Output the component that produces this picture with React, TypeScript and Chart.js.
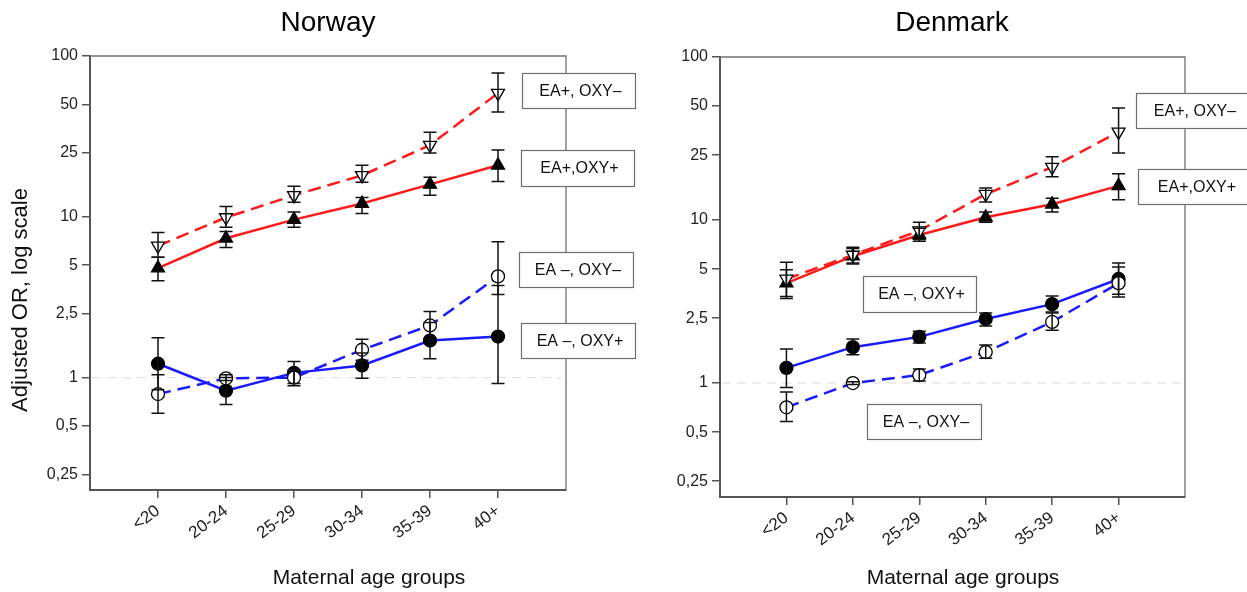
import React, { useEffect, useRef } from 'react';
import { Chart, registerables } from 'chart.js';

Chart.register(...registerables);

const FONT = "'Liberation Sans', Arial, Helvetica, sans-serif";
const PAGE_W = 1247;
const PAGE_H = 592;

// ---------- data ----------
const ageGroups = ['<20', '20-24', '25-29', '30-34', '35-39', '40+'];
const yTickValues = [0.25, 0.5, 1, 2.5, 5, 10, 25, 50, 100];

// Norway
const noEaPosOxyNeg = [6.6, 9.9, 13.6, 18.1, 27.9, 58.8];
const noEaPosOxyNegLo = [5.6, 8.6, 12.3, 16.4, 24.9, 44.8];
const noEaPosOxyNegHi = [8.0, 11.6, 15.5, 20.9, 33.6, 78.3];

const noEaPosOxyPos = [4.8, 7.35, 9.6, 12.1, 15.9, 20.9];
const noEaPosOxyPosLo = [4.0, 6.45, 8.6, 10.5, 13.6, 16.6];
const noEaPosOxyPosHi = [5.6, 8.1, 10.7, 13.2, 17.6, 26.0];

const noEaNegOxyNeg = [0.79, 0.99, 1.0, 1.49, 2.11, 4.26];
const noEaNegOxyNegLo = [0.6, 0.96, 0.89, 1.28, 1.73, 3.29];
const noEaNegOxyNegHi = [1.04, 1.04, 1.12, 1.73, 2.58, 7.0];

const noEaNegOxyPos = [1.22, 0.83, 1.07, 1.19, 1.7, 1.8];
const noEaNegOxyPosLo = [0.84, 0.68, 0.92, 0.99, 1.31, 0.92];
const noEaNegOxyPosHi = [1.77, 1.0, 1.26, 1.42, 2.2, 3.74];

// Denmark
const dkEaPosOxyNeg = [4.35, 6.1, 8.6, 14.4, 21.1, 34.7];
const dkEaPosOxyNegLo = [3.4, 5.45, 7.6, 12.9, 18.4, 25.8];
const dkEaPosOxyNegHi = [5.5, 6.8, 9.7, 15.7, 24.4, 48.7];

const dkEaPosOxyPos = [4.1, 6.0, 8.1, 10.4, 12.5, 16.2];
const dkEaPosOxyPosLo = [3.3, 5.37, 7.4, 9.7, 11.2, 13.3];
const dkEaPosOxyPosHi = [4.95, 6.7, 8.9, 11.2, 13.6, 19.2];

const dkEaNegOxyNeg = [0.71, 1.0, 1.12, 1.55, 2.37, 4.1];
const dkEaNegOxyNegLo = [0.58, 0.98, 1.03, 1.42, 2.11, 3.37];
const dkEaNegOxyNegHi = [0.88, 1.02, 1.22, 1.71, 2.69, 5.15];

const dkEaNegOxyPos = [1.24, 1.66, 1.92, 2.47, 3.05, 4.35];
const dkEaNegOxyPosLo = [0.94, 1.49, 1.76, 2.24, 2.73, 3.5];
const dkEaNegOxyPosHi = [1.62, 1.86, 2.08, 2.69, 3.42, 5.45];

// ---------- styling ----------
const RED = '#ff1a1a';
const BLUE = '#1a1aff';

type Marker = 'triDownOpen' | 'triUpFilled' | 'circleOpen' | 'circleFilled';

interface SeriesDef {
  label: string;
  values: number[];
  lo: number[];
  hi: number[];
  color: string;
  dashed: boolean;
  marker: Marker;
}

interface BoxDef {
  text: string;
  x: number;
  y: number;
  w: number;
  h: number;
}

interface PanelDef {
  title: string;
  left: number;
  width: number;
  area: { left: number; right: number; top: number; bottom: number };
  titleX: number;
  xTitleX: number;
  yTitle: string | null;
  series: SeriesDef[];
  boxes: BoxDef[];
}

const norway: PanelDef = {
  title: 'Norway',
  left: 0,
  width: 640,
  area: { left: 90, right: 566, top: 56, bottom: 490 },
  titleX: 328,
  xTitleX: 369,
  yTitle: 'Adjusted OR, log scale',
  series: [
    { label: 'EA+, OXY–', values: noEaPosOxyNeg, lo: noEaPosOxyNegLo, hi: noEaPosOxyNegHi, color: RED, dashed: true, marker: 'triDownOpen' },
    { label: 'EA+,OXY+', values: noEaPosOxyPos, lo: noEaPosOxyPosLo, hi: noEaPosOxyPosHi, color: RED, dashed: false, marker: 'triUpFilled' },
    { label: 'EA –, OXY–', values: noEaNegOxyNeg, lo: noEaNegOxyNegLo, hi: noEaNegOxyNegHi, color: BLUE, dashed: true, marker: 'circleOpen' },
    { label: 'EA –, OXY+', values: noEaNegOxyPos, lo: noEaNegOxyPosLo, hi: noEaNegOxyPosHi, color: BLUE, dashed: false, marker: 'circleFilled' },
  ],
  boxes: [
    { text: 'EA+, OXY–', x: 522, y: 73, w: 113, h: 35 },
    { text: 'EA+,OXY+', x: 521, y: 150, w: 113, h: 36 },
    { text: 'EA –, OXY–', x: 519, y: 252, w: 114, h: 35 },
    { text: 'EA –, OXY+', x: 521, y: 323, w: 114, h: 35 },
  ],
};

const denmark: PanelDef = {
  title: 'Denmark',
  left: 640,
  width: PAGE_W - 640,
  area: { left: 80, right: 545, top: 57, bottom: 497 },
  titleX: 312,
  xTitleX: 323,
  yTitle: null,
  series: [
    { label: 'EA+, OXY–', values: dkEaPosOxyNeg, lo: dkEaPosOxyNegLo, hi: dkEaPosOxyNegHi, color: RED, dashed: true, marker: 'triDownOpen' },
    { label: 'EA+,OXY+', values: dkEaPosOxyPos, lo: dkEaPosOxyPosLo, hi: dkEaPosOxyPosHi, color: RED, dashed: false, marker: 'triUpFilled' },
    { label: 'EA –, OXY–', values: dkEaNegOxyNeg, lo: dkEaNegOxyNegLo, hi: dkEaNegOxyNegHi, color: BLUE, dashed: true, marker: 'circleOpen' },
    { label: 'EA –, OXY+', values: dkEaNegOxyPos, lo: dkEaNegOxyPosLo, hi: dkEaNegOxyPosHi, color: BLUE, dashed: false, marker: 'circleFilled' },
  ],
  boxes: [
    { text: 'EA+, OXY–', x: 496, y: 93, w: 114, h: 35 },
    { text: 'EA+,OXY+', x: 498, y: 169, w: 114, h: 35 },
    { text: 'EA –, OXY+', x: 223, y: 276, w: 113, h: 36 },
    { text: 'EA –, OXY–', x: 227, y: 404, w: 114, h: 35 },
  ],
};

function fmtTick(v: number): string {
  return String(v).replace('.', ',');
}

function buildDataset(s: SeriesDef) {
  const isTri = s.marker === 'triDownOpen' || s.marker === 'triUpFilled';
  const filled = s.marker === 'triUpFilled' || s.marker === 'circleFilled';
  return {
    label: s.label,
    data: s.values.map((v, i) => ({ x: i + 1, y: v })),
    errLo: s.lo,
    errHi: s.hi,
    borderColor: s.color,
    borderWidth: 2.5,
    borderDash: s.dashed ? [13, 7] : [],
    fill: false,
    tension: 0,
    pointStyle: isTri ? 'triangle' : 'circle',
    pointRotation: s.marker === 'triDownOpen' ? 180 : 0,
    pointRadius: isTri ? 7.5 : 6.5,
    pointBorderWidth: 1.3,
    pointBorderColor: '#000',
    pointBackgroundColor: filled ? '#000' : '#fff',
  };
}

function makeDecor(p: PanelDef) {
  return {
    id: 'decor',
    beforeDatasetsDraw(chart: any) {
      const { ctx, chartArea: a } = chart;
      const y = chart.scales.y;
      ctx.save();
      const y1 = y.getPixelForValue(1);
      ctx.strokeStyle = '#dcdcdc';
      ctx.lineWidth = 1;
      ctx.setLineDash([9, 6]);
      ctx.beginPath();
      ctx.moveTo(a.left + 2, y1);
      ctx.lineTo(a.right - 4, y1);
      ctx.stroke();
      ctx.setLineDash([]);
      ctx.strokeStyle = '#707070';
      ctx.lineWidth = 1.3;
      ctx.beginPath();
      ctx.moveTo(a.left, a.top);
      ctx.lineTo(a.right, a.top);
      ctx.lineTo(a.right, a.bottom);
      ctx.stroke();
      ctx.restore();
    },
    afterDatasetsDraw(chart: any) {
      const { ctx } = chart;
      const xs = chart.scales.x;
      const ys = chart.scales.y;
      ctx.save();
      ctx.strokeStyle = '#111';
      ctx.lineWidth = 1.5;
      chart.data.datasets.forEach((ds: any) => {
        ds.data.forEach((pt: any, i: number) => {
          const px = xs.getPixelForValue(pt.x);
          const yl = ys.getPixelForValue(ds.errLo[i]);
          const yh = ys.getPixelForValue(ds.errHi[i]);
          ctx.beginPath();
          ctx.moveTo(px, yl);
          ctx.lineTo(px, yh);
          ctx.moveTo(px - 6.5, yl);
          ctx.lineTo(px + 6.5, yl);
          ctx.moveTo(px - 6.5, yh);
          ctx.lineTo(px + 6.5, yh);
          ctx.stroke();
        });
      });
      ctx.restore();
    },
    afterDraw(chart: any) {
      const { ctx } = chart;
      ctx.save();
      // annotation boxes
      p.boxes.forEach((b) => {
        ctx.fillStyle = '#fff';
        ctx.fillRect(b.x, b.y, b.w, b.h);
        ctx.strokeStyle = '#6e6e6e';
        ctx.lineWidth = 1.2;
        ctx.strokeRect(b.x + 0.5, b.y + 0.5, b.w, b.h);
        ctx.fillStyle = '#111';
        ctx.font = `16px ${FONT}`;
        ctx.textAlign = 'center';
        ctx.textBaseline = 'middle';
        ctx.fillText(b.text, b.x + b.w / 2 + 2, b.y + b.h / 2 + 1);
      });
      // panel title
      ctx.fillStyle = '#000';
      ctx.font = `28px ${FONT}`;
      ctx.textAlign = 'center';
      ctx.textBaseline = 'middle';
      ctx.fillText(p.title, p.titleX, 23);
      // x axis title
      ctx.font = `21px ${FONT}`;
      ctx.fillStyle = '#111';
      ctx.fillText('Maternal age groups', p.xTitleX, 578);
      // y axis title
      if (p.yTitle) {
        ctx.translate(21, 300);
        ctx.rotate(-Math.PI / 2);
        ctx.font = `22px ${FONT}`;
        ctx.fillText(p.yTitle, 0, 0);
      }
      ctx.restore();
    },
  };
}

function Panel({ p }: { p: PanelDef }) {
  const ref = useRef<HTMLCanvasElement>(null);
  useEffect(() => {
    const canvas = ref.current;
    if (!canvas) return;
    const a = p.area;
    const axisGrid = {
      drawOnChartArea: false,
      drawTicks: true,
      tickLength: 8,
      color: '#555',
      lineWidth: 1.5,
    };
    const axisBorder = { display: true, color: '#555', width: 2 };
    const chart = new Chart(canvas, {
      type: 'line',
      data: { datasets: p.series.map(buildDataset) as any },
      plugins: [makeDecor(p)],
      options: {
        animation: false,
        responsive: false,
        maintainAspectRatio: false,
        devicePixelRatio: 1,
        layout: { padding: { left: 0, right: p.width - a.right, top: a.top, bottom: 0 } },
        plugins: { legend: { display: false }, tooltip: { enabled: false }, title: { display: false } },
        scales: {
          x: {
            type: 'linear',
            min: 0,
            max: ageGroups.length + 1,
            afterBuildTicks: (s: any) => {
              s.ticks = ageGroups.map((_, i) => ({ value: i + 1 }));
            },
            afterFit: (s: any) => {
              s.height = PAGE_H - a.bottom;
            },
            ticks: {
              autoSkip: false,
              maxRotation: 37,
              minRotation: 37,
              padding: 3,
              color: '#222',
              font: { size: 17, family: FONT },
              callback: (_v: any, i: number) => ageGroups[i] ?? '',
            },
            grid: axisGrid,
            border: axisBorder,
          },
          y: {
            type: 'logarithmic',
            min: 0.2,
            max: 100,
            afterBuildTicks: (s: any) => {
              s.ticks = yTickValues.map((v) => ({ value: v }));
            },
            afterFit: (s: any) => {
              s.width = a.left;
            },
            ticks: {
              autoSkip: false,
              padding: 4,
              color: '#222',
              font: { size: 16, family: FONT },
              callback: (v: any) => fmtTick(Number(v)),
            },
            grid: axisGrid,
            border: axisBorder,
          },
        },
      } as any,
    });
    return () => chart.destroy();
  }, [p]);
  return (
    <canvas
      ref={ref}
      width={p.width}
      height={PAGE_H}
      style={{ position: 'absolute', left: p.left, top: 0, width: p.width, height: PAGE_H }}
    />
  );
}

export default function App() {
  return (
    <div style={{ position: 'fixed', left: 0, top: 0, width: PAGE_W, height: PAGE_H, background: '#fff', overflow: 'hidden' }}>
      <Panel p={norway} />
      <Panel p={denmark} />
    </div>
  );
}
